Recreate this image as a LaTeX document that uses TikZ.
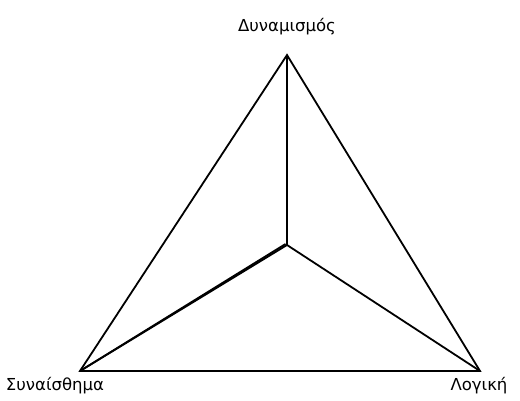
\documentclass[tikz,border=0pt]{standalone}
\usepackage{fontspec}
\setmainfont{DejaVu Sans}
\usetikzlibrary{positioning}

\begin{document}
\begin{tikzpicture}[x=1pt,y=-1pt]
	\useasboundingbox (0,0) rectangle (520,401);
	\tikzset{edge/.style={line width=1.8pt}, lbl/.style={font=\fontsize{16.5}{18}\selectfont, inner sep=0pt}}
	\coordinate (top) at (287,55);
	\coordinate (left) at (80,371);
	\coordinate (right) at (480,371);
	\coordinate (mid) at (287,245);
	\draw[edge] (top) -- (left) -- (right) -- cycle;
	\foreach \v in {top, left, right}
		\draw[edge] (mid) -- (\v);
	% doubled stroke towards the left corner
	\draw[edge] ([xshift=-1.5pt,yshift=1pt]mid) -- (left);
	\node[lbl] (dyn) at (287,27) {Δυναμισμός};
	\node[lbl] (syn) at (55,386) {Συναίσθημα};
	\node[lbl] (log) at (479,386) {Λογική};
\end{tikzpicture}
\end{document}
